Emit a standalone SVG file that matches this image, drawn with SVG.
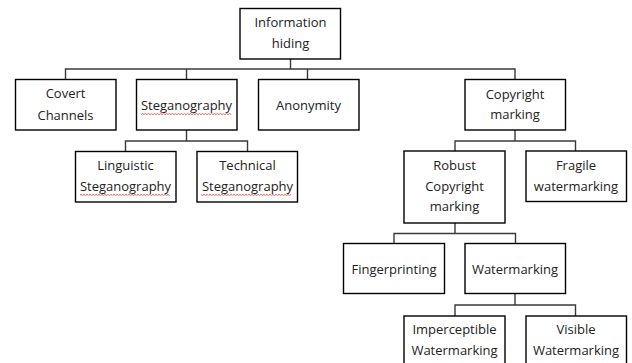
<svg xmlns="http://www.w3.org/2000/svg" width="632" height="363" viewBox="0 0 632 363">
<defs>
<pattern id="zig" x="0" y="0" width="3" height="2" patternUnits="userSpaceOnUse"><path d="M0 0.3L1.5 1.7 3 0.3" fill="none" stroke="#e03030" stroke-width="0.8"/></pattern>
</defs>
<style>
.box{fill:#fff;stroke:#000;stroke-width:1.4}
.t{font-family:"Open Sans","Noto Sans","DejaVu Sans",sans-serif;font-size:13px;fill:#222;text-anchor:middle}
.c{fill:none;stroke:#3a3a3a;stroke-width:1.4}
.sq{fill:url(#zig)}
</style>
<rect width="632" height="363" fill="#fff"/>
<g id="connectors">
<path class="c" d="M290.5 59V69M65.5 79V69H515V79M186.5 69V79M307.5 69V79"/>
<path class="c" d="M186.5 130V141M125.5 152V141H247.5V152"/>
<path class="c" d="M515 130V141M455 151V141H575.5V151"/>
<path class="c" d="M455 223V233.5M394 243V233.5H515.5V243"/>
<path class="c" d="M515 293V305M455 316V305H575.5V316"/>
</g>
<g id="info"><rect class="box" x="240" y="8.5" width="100.5" height="50.5"/><text class="t" x="290.5" y="27">Information</text><text class="t" x="290.5" y="48">hiding</text></g>
<g id="covert"><rect class="box" x="15.5" y="79.5" width="100.5" height="50.5"/><text class="t" x="65.5" y="98">Covert</text><text class="t" x="65.5" y="120">Channels</text></g>
<g id="stego"><rect class="box" x="136.5" y="79.5" width="100.5" height="50.5"/><text class="t" x="186.5" y="110">Steganography</text><rect class="sq" x="141" y="113" width="90" height="2"/></g>
<g id="anon"><rect class="box" x="258.5" y="79.5" width="100.5" height="50.5"/><text class="t" x="308.5" y="110">Anonymity</text></g>
<g id="copyright"><rect class="box" x="465" y="79.5" width="100.5" height="50.5"/><text class="t" x="515" y="99">Copyright</text><text class="t" x="515" y="119">marking</text></g>
<g id="linguistic"><rect class="box" x="75.5" y="151.5" width="100.5" height="50.5"/><text class="t" x="125.5" y="170">Linguistic</text><text class="t" x="125.5" y="191">Steganography</text><rect class="sq" x="80" y="194" width="90" height="2"/></g>
<g id="technical"><rect class="box" x="197" y="151.5" width="100.5" height="50.5"/><text class="t" x="247.5" y="170">Technical</text><text class="t" x="247.5" y="191">Steganography</text><rect class="sq" x="201" y="194" width="90" height="2"/></g>
<g id="robust"><rect class="box" x="404" y="151" width="101" height="72"/><text class="t" x="454.5" y="170">Robust</text><text class="t" x="454.5" y="191">Copyright</text><text class="t" x="454.5" y="211">marking</text></g>
<g id="fragile"><rect class="box" x="526" y="151" width="100.5" height="50.5"/><text class="t" x="576" y="170">Fragile</text><text class="t" x="576" y="191">watermarking</text></g>
<g id="fingerprinting"><rect class="box" x="343.5" y="243.5" width="101" height="50"/><text class="t" x="394" y="274">Fingerprinting</text></g>
<g id="watermarking"><rect class="box" x="465" y="243.5" width="100.5" height="50"/><text class="t" x="515" y="274">Watermarking</text></g>
<g id="imperceptible"><rect class="box" x="404" y="316" width="101" height="55"/><text class="t" x="454.5" y="334">Imperceptible</text><text class="t" x="454.5" y="355">Watermarking</text></g>
<g id="visible"><rect class="box" x="526" y="316" width="100.5" height="55"/><text class="t" x="576" y="334">Visible</text><text class="t" x="576" y="355">Watermarking</text></g>
</svg>
